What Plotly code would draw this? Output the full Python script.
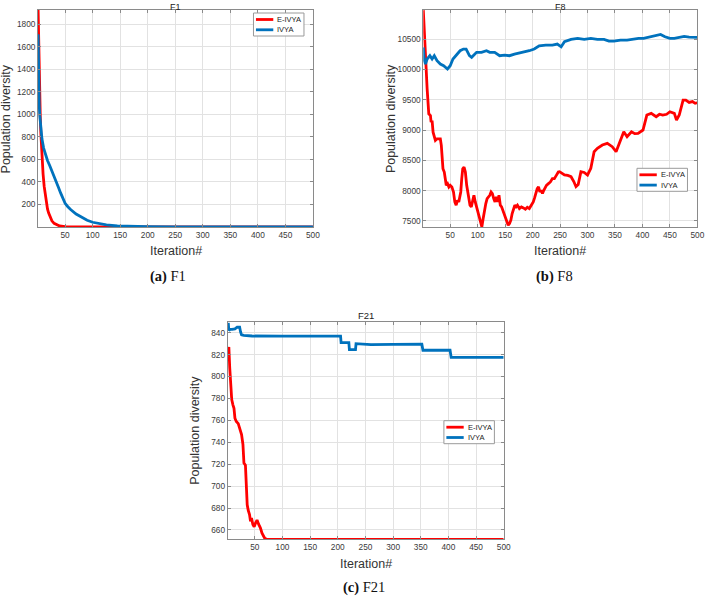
import plotly.graph_objects as go

W, H = 712, 597

# ---------------- data ----------------
series_names = ["E-IVYA", "IVYA"]
series_colors = ["#FF0000", "#0072BD"]

# F1
f1_eivya_x = [1, 2, 3, 4, 5, 6, 8, 10, 12, 14, 16, 18, 20, 23, 26, 30, 35, 40, 50, 70, 100, 500]
f1_eivya_y = [1925, 1600, 1330, 1120, 960, 830, 620, 470, 360, 280, 210, 160, 125, 85, 55, 32, 17, 9, 3, 0.8, 0.2, 0]
f1_ivya_x = [1, 2, 3, 4, 6, 8, 11, 15, 18, 22, 26, 30, 34, 38, 42, 46, 50, 55, 60, 70, 80, 90, 100, 110, 125, 145, 170, 200, 250, 300, 500]
f1_ivya_y = [1710, 1200, 1080, 990, 870, 780, 700, 630, 590, 545, 500, 450, 400, 350, 300, 250, 210, 180, 155, 115, 85, 60, 42, 30, 18, 10, 5, 2.5, 1, 0.5, 0.2]

# F8
f8_eivya_x = [1, 5, 8, 11, 14, 15.2, 17, 18.8, 21.2, 23, 26, 29, 32, 33.8, 35, 36.8, 39.2, 41, 42.8, 45.2,
              47.6, 50, 53, 56, 58.4, 60.8, 63.2, 65.6, 66.8, 69.2, 71, 72.8, 75.2, 77.6, 80, 81.8, 83.6, 86,
              88.4, 90.8, 93.2, 95.6, 98, 101, 104, 105.8, 107.6, 110, 112.4, 114.8, 117.2, 119.6, 122, 124.4,
              126.8, 129.2, 131.6, 134, 136.4, 138.8, 141.2, 143.6, 146, 148.4, 150.8, 153.2, 155.6, 158, 160.4,
              162.8, 165.2, 167.6, 170, 172.4, 176, 179.6, 183.2, 186.8, 190.4, 194, 197.6, 201.2, 203.6, 206,
              208.4, 210.8, 213.2, 215.6, 218, 220.4, 222.8, 225.2, 228.8, 232.4, 236, 239.6, 243.2, 246.8,
              249, 254, 258, 264, 270, 275, 279, 283, 288, 294, 300, 306, 312, 318, 327, 336, 345, 352, 359,
              366, 372, 380, 386, 392, 401, 408, 416, 425, 431, 437, 444, 450, 458, 462, 467, 474, 479, 485,
              491, 496, 500]
f8_eivya_y = [10978, 10116, 9678, 9267, 9239, 9130, 9157, 8965, 8883, 8828, 8855, 8855, 8855, 8746, 8526, 8362,
              8307, 8198, 8088, 8115, 8061, 8088, 8061, 7978, 7814, 7759, 7841, 7814, 7896, 7978, 8198, 8362,
              8389, 8307, 8088, 7978, 7841, 7759, 7732, 7814, 7923, 7814, 7732, 7649, 7540, 7457, 7403, 7540,
              7704, 7786, 7869, 7896, 7923, 7978, 7951, 7869, 7814, 7896, 7814, 7923, 7759, 7732, 7677, 7594,
              7540, 7485, 7430, 7457, 7512, 7622, 7704, 7759, 7732, 7759, 7704, 7732, 7715, 7693, 7726, 7704,
              7759, 7814, 7880, 7951, 8033, 8061, 7978, 8006, 7951, 8006, 8061, 8088, 8115, 8143, 8198, 8198,
              8252, 8307, 8313, 8280, 8258, 8250, 8230, 8150, 8065, 8100, 8312, 8300, 8258, 8367, 8642, 8697,
              8752, 8780, 8725, 8642, 8807, 8972, 8890, 8972, 8940, 8945, 9000, 9247, 9275, 9220, 9260, 9247,
              9260, 9302, 9275, 9165, 9247, 9494, 9494, 9456, 9470, 9440, 9450]
f8_ivya_x = [1, 3, 5, 8, 13, 17, 21, 26, 32, 38, 45, 50, 55, 62, 68, 74, 79, 85, 89, 98, 107, 116, 122, 131,
             140, 149, 158, 167, 176, 185, 194, 203, 212, 224, 236, 245, 252, 258, 270, 282, 294, 306, 318, 330,
             339, 348, 360, 372, 384, 393, 402, 414, 426, 433, 441, 450, 458, 467, 476, 485, 500]
f8_ivya_y = [10363, 10144, 10089, 10171, 10226, 10171, 10226, 10144, 10089, 10061, 10007, 10061, 10171, 10253,
             10308, 10336, 10336, 10226, 10199, 10281, 10281, 10308, 10281, 10281, 10226, 10237, 10226, 10253,
             10270, 10281, 10308, 10336, 10390, 10400, 10400, 10418, 10373, 10456, 10495, 10511, 10495, 10511,
             10495, 10495, 10467, 10467, 10484, 10484, 10500, 10511, 10511, 10538, 10555, 10577, 10538, 10511,
             10511, 10533, 10544, 10533, 10528]

# F21
f21_eivya_x = [1, 2, 3, 4.6, 6.4, 8.2, 10.5, 12.3, 14, 16.5, 20, 22.5, 26, 28.5, 30.3, 33, 34.4, 36.2, 38,
               40.4, 42.2, 44, 46.4, 48.8, 51, 54, 57, 60, 63, 67.8, 71, 500]
f21_eivya_y = [818, 826, 827, 808, 792, 779, 774, 771, 762, 759, 757, 753, 747, 738, 721, 719, 701, 683, 678,
               674, 668, 671, 665, 663, 666, 669, 665, 662, 657, 652.5, 651.5, 651.5]
f21_ivya_x = [1, 2, 3, 5, 9, 14, 18, 22.5, 24.3, 26, 30, 45, 100, 205, 206, 220, 221, 232, 233, 260, 300,
              352, 354, 403, 405, 500]
f21_ivya_y = [842, 849, 842, 843, 843, 843.5, 845, 845, 840.5, 838, 837.5, 837, 836.8, 836.8, 831, 831, 824.5,
              824.5, 830, 829.2, 829.4, 829.5, 824, 824, 817.5, 817.5]

x_ticks = [50, 100, 150, 200, 250, 300, 350, 400, 450, 500]
f1_yticks = [200, 400, 600, 800, 1000, 1200, 1400, 1600, 1800]
f8_yticks = [7500, 8000, 8500, 9000, 9500, 10000, 10500]
f21_yticks = [660, 680, 700, 720, 740, 760, 780, 800, 820, 840]

panel_titles = ["F1", "F8", "F21"]
captions = ["<b>(a)</b> F1", "<b>(b)</b> F8", "<b>(c)</b> F21"]
x_title = "Iteration#"
y_title = "Population diversity"

# ---------------- layout helpers ----------------
def px(x):
    return x / W


def py(y):
    return 1 - y / H


# plot areas in pixels: (left, top, right, bottom)
boxes = [(38.5, 10, 316, 227), (427.5, 10, 704.3, 227), (230, 322.3, 508.7, 539.3)]
y_ranges = [[0, 1925], [7400, 10980], [651.5, 849.5]]
y_ticks = [f1_yticks, f8_yticks, f21_yticks]
legend_pos = [(256, 13), (643.3, 168.3), (448.3, 420.7)]
caption_pos = [(170, 276), (560, 276.5), (368, 587.5)]

data = [
    [(f1_eivya_x, f1_eivya_y), (f1_ivya_x, f1_ivya_y)],
    [(f8_eivya_x, f8_eivya_y), (f8_ivya_x, f8_ivya_y)],
    [(f21_eivya_x, f21_eivya_y), (f21_ivya_x, f21_ivya_y)],
]

fig = go.Figure()
TICKFONT = dict(family="Liberation Sans, Arial", size=8.3, color="#3a3a3a")
AXC = "#8a8a8a"

layout = dict(
    width=W, height=H, margin=dict(l=0, r=0, t=0, b=0),
    paper_bgcolor="white", plot_bgcolor="white", showlegend=False,
)
annotations = []
shapes = []

for i, (l, t, r, b) in enumerate(boxes):
    sfx = "" if i == 0 else str(i + 1)
    for j, (xs, ys) in enumerate(data[i]):
        fig.add_trace(go.Scatter(
            x=xs, y=ys, mode="lines", name=series_names[j],
            line=dict(color=series_colors[j], width=2.8),
            xaxis="x" + sfx, yaxis="y" + sfx, showlegend=False,
        ))
    common = dict(
        showgrid=True, gridcolor="#e2e2e2", gridwidth=1, zeroline=False,
        showline=True, linecolor=AXC, linewidth=1, mirror="ticks",
        ticks="inside", ticklen=3, tickcolor=AXC, tickwidth=1,
        tickfont=TICKFONT, fixedrange=True,
    )
    layout["xaxis" + sfx] = dict(
        common, domain=[px(l), px(r)], range=[1, 500], tickvals=x_ticks,
        ticktext=[str(v) for v in x_ticks], anchor="y" + sfx,
    )
    layout["yaxis" + sfx] = dict(
        common, domain=[py(b), py(t)], range=y_ranges[i], tickvals=y_ticks[i],
        ticktext=[str(v) for v in y_ticks[i]], anchor="x" + sfx,
    )
    cx = (l + r) / 2
    cy = (t + b) / 2
    # panel title (top panels: keep fully inside the page)
    if t - 7 < 6:
        annotations.append(dict(x=px(cx), y=1, xref="paper", yref="paper", text=panel_titles[i],
                                showarrow=False, xanchor="center", yanchor="top",
                                font=dict(family="Liberation Sans, Arial", size=9, color="#222222")))
    else:
        annotations.append(dict(x=px(cx), y=py(t - 7), xref="paper", yref="paper", text=panel_titles[i],
                                showarrow=False, xanchor="center", yanchor="middle",
                                font=dict(family="Liberation Sans, Arial", size=9.5, color="#222222")))
    # axis titles
    annotations.append(dict(x=px(cx), y=py(b + 24.5), xref="paper", yref="paper", text=x_title,
                            showarrow=False, xanchor="center", yanchor="middle",
                            font=dict(family="Liberation Sans, Arial", size=12.5, color="#333333")))
    annotations.append(dict(x=px(l - 33), y=py(cy), xref="paper", yref="paper", text=y_title,
                            showarrow=False, xanchor="center", yanchor="middle", textangle=-90,
                            font=dict(family="Liberation Sans, Arial", size=12.5, color="#333333")))
    # caption
    cxp, cyp = caption_pos[i]
    annotations.append(dict(x=px(cxp), y=py(cyp), xref="paper", yref="paper", text=captions[i],
                            showarrow=False, xanchor="center", yanchor="middle",
                            font=dict(family="Liberation Serif, Times New Roman", size=14.5, color="#111111")))
    # legend box
    lx, ly = legend_pos[i]
    shapes.append(dict(type="rect", xref="paper", yref="paper", x0=px(lx), x1=px(lx + 51),
                       y0=py(ly + 23), y1=py(ly), fillcolor="white",
                       line=dict(color="#9a9a9a", width=1), layer="above"))
    for j, name in enumerate(series_names):
        yy = ly + 6.5 + 10.3 * j
        shapes.append(dict(type="line", xref="paper", yref="paper", x0=px(lx + 2.5), x1=px(lx + 20),
                           y0=py(yy), y1=py(yy), line=dict(color=series_colors[j], width=2.8), layer="above"))
        annotations.append(dict(x=px(lx + 22), y=py(yy), xref="paper", yref="paper", text=name,
                                showarrow=False, xanchor="left", yanchor="middle",
                                font=dict(family="Liberation Sans, Arial", size=7.5, color="#222222")))

# F1's y axis title sits at the left edge of the page
annotations[2]["x"] = px(6)

layout["annotations"] = annotations
layout["shapes"] = shapes
fig.update_layout(**layout)
fig.write_html("out.html")
